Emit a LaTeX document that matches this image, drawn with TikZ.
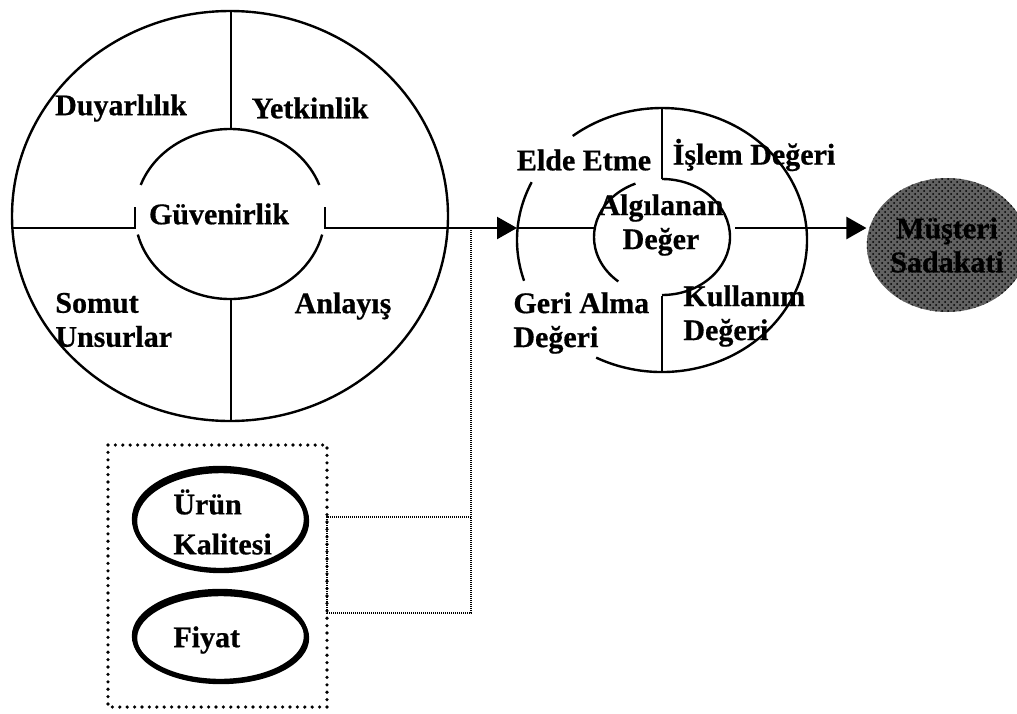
\documentclass[tikz,border=0pt]{standalone}
\usepackage{fontspec}
\setmainfont[BoldFeatures={FakeBold=0.6}]{Liberation Serif}
\usetikzlibrary{arrows.meta}
\usetikzlibrary{patterns}
\usetikzlibrary{shapes.geometric}

\begin{document}
\begin{tikzpicture}
	[x=0.5pt, y=-0.5pt,
	every node/.style = {font=\fontsize{15}{17}\selectfont\bfseries, inner sep=0pt, align=left},
	cizgi/.style = {line width=1.2pt},
	okucu/.style = {cizgi, -{Triangle[length=10pt, width=11pt]}},
	kutu/.style = {line width=1.8pt, line cap=round, dash pattern=on 0pt off 3.7pt},
	baglanti/.style = {line width=0.8pt, dash pattern=on 0.6pt off 0.4pt},
	halka/.style = {line width=2.2pt}]
	\useasboundingbox (0,0) rectangle (1017,713);
	% hizmet kalitesi halkasi
	\coordinate (gm) at (230,216);
	\coordinate (gi) at (230,214);
	\draw[cizgi] (gm) ellipse [x radius=218, y radius=205];
	\draw[cizgi] (gi) ++(-160:95 and 85) arc [start angle=-160, end angle=-20, x radius=95, y radius=85];
	\draw[cizgi] (gi) ++(-194:95 and 85) arc [start angle=-194, end angle=-346, x radius=95, y radius=85];
	\draw[cizgi] (231,10) -- (231,129);
	\draw[cizgi] (231,298) -- (231,421);
	\draw[cizgi] (135,207) -- (135,228) -- (12,228);
	\coordinate (cikis) at (448,228);
	\draw[cizgi] (325,207) -- (325,228) -- (cikis);
	\node (duyar) at (121,108) {Duyarlılık};
	\node (yetkin) at (310,108) {Yetkinlik};
	\node (guven) at (219,214) {Güvenirlik};
	\node (somut) [anchor=west] at (55,320) {Somut\\Unsurlar};
	\node (anlayis) at (343,306) {Anlayış};
	% algilanan deger halkasi
	\coordinate (am) at (662,240);
	\coordinate (ai) at (662,237);
	\draw[cizgi] (am) ++(117:145 and 132) arc [start angle=117, end angle=-128, x radius=145, y radius=132];
	\draw[cizgi] (am) ++(-154:145 and 132) arc [start angle=-154, end angle=-198, x radius=145, y radius=132];
	\draw[cizgi] (ai) ++(-90:68 and 58) arc [start angle=-90, end angle=90, x radius=68, y radius=58];
	\draw[cizgi] (ai) ++(-113:68 and 58) arc [start angle=-113, end angle=-230, x radius=68, y radius=58];
	\draw[cizgi] (662,108) -- (662,179);
	\draw[cizgi] (662,296) -- (662,373);
	\node (elde) at (584,160) {Elde Etme};
	\node (islem) at (754,155) {İşlem Değeri};
	\node (algi) [align=center] at (661,225) {Algılanan\\Değer};
	\node (geri) [anchor=west] at (513,323) {Geri Alma\\Değeri};
	\node (kullanim) [anchor=west] at (683,316) {Kullanım\\Değeri};
	% musteri sadakati
	\node (musteri) [ellipse, minimum width=69pt, minimum height=67pt, align=center,
		preaction={fill=black!62}, pattern=crosshatch dots, pattern color=black] at (947,245) {Müşteri\\Sadakati};
	% oklar
	\coordinate (giris) at (517,228);
	\coordinate (algisonu) at (594,228);
	\coordinate (algicikis) at (735,228);
	\draw[okucu] (cikis) -- (giris);
	\draw[cizgi] (giris) -- (algisonu);
	\draw[okucu] (algicikis) -- (algicikis -| musteri.west);
	% urun kalitesi ve fiyat
	\draw[kutu] (108,445) rectangle (327,707);
	\draw[halka] (220,519) ellipse [x radius=86, y radius=51];
	\draw[halka] (221,521) ellipse [x radius=86, y radius=50];
	\draw[halka] (220,636) ellipse [x radius=86, y radius=45];
	\draw[halka] (221,638) ellipse [x radius=86, y radius=44];
	\node (kalite) [anchor=west] at (173,522) {Ürün\\[3pt]Kalitesi};
	\node (fiyat) [anchor=west] at (173,640) {Fiyat};
	\coordinate (k1) at (471,228);
	\coordinate (k2) at (471,517);
	\coordinate (k3) at (471,613);
	\coordinate (b1) at (327,517);
	\coordinate (b2) at (327,613);
	\draw[baglanti] (k1) -- (k3) -- (b2) -- (b1) -- (k2);
\end{tikzpicture}
\end{document}
